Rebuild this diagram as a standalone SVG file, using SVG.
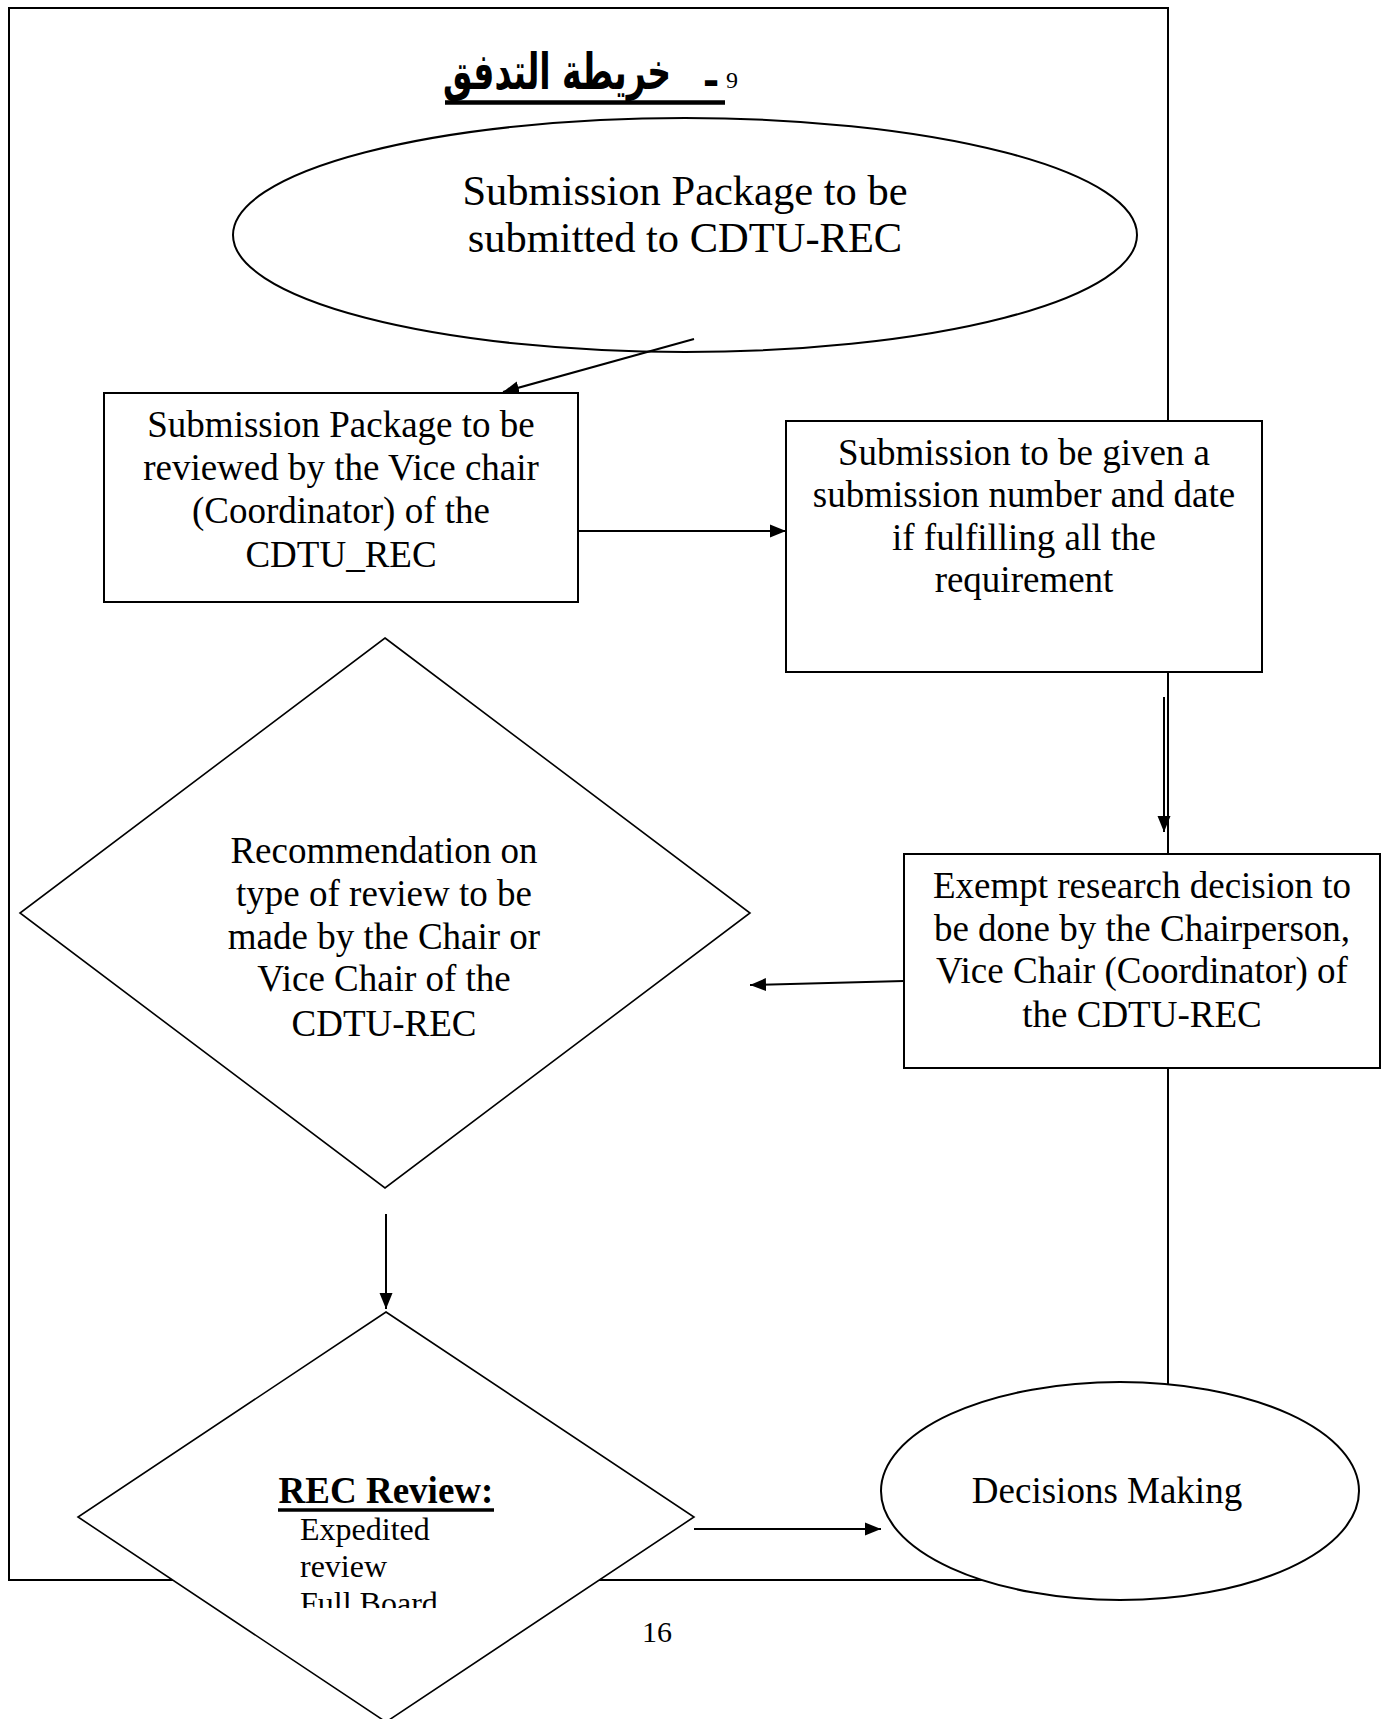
<svg xmlns="http://www.w3.org/2000/svg" width="1386" height="1719" viewBox="0 0 1386 1719">
<style>
.t{font-family:"Liberation Serif","Times New Roman",serif;fill:#000;}
.n{fill:#fff;stroke:#000;stroke-width:2;}
.d{fill:#fff;stroke:#000;stroke-width:1.6;}
.c{fill:none;stroke:#000;stroke-width:2;}
</style>
<defs>
<marker id="ah" markerUnits="userSpaceOnUse" markerWidth="17" markerHeight="14" refX="16" refY="7" orient="auto"><path d="M0,0.5 L16,7 L0,13.5 z" fill="#000"/></marker>
<clipPath id="clipTxt"><rect x="0" y="1300" width="1386" height="308"/></clipPath>
</defs>
<rect id="page" x="9" y="8" width="1159" height="1572" fill="none" stroke="#000" stroke-width="2"/>
<g id="title">
<text transform="translate(557,89) scale(0.66,1)" text-anchor="middle" direction="rtl" font-family="'DejaVu Sans',sans-serif" font-weight="bold" font-size="50" fill="#000">خريطة التدفق</text>
<text x="711" y="95" text-anchor="middle" font-family="'DejaVu Sans',sans-serif" font-weight="bold" font-size="40" fill="#000">-</text>
<text x="732" y="88" text-anchor="middle" class="t" font-size="24">9</text>
<line x1="445" y1="102.5" x2="725" y2="102.5" stroke="#000" stroke-width="4.5"/>
</g>
<g id="n1">
<ellipse class="n" cx="685" cy="235" rx="452" ry="117"/>
<text class="t" font-size="42.5" text-anchor="middle"><tspan x="685" y="205">Submission Package to be</tspan><tspan x="685" y="252">submitted to CDTU-REC</tspan></text>
</g>
<g id="n2">
<rect class="n" x="104" y="393" width="474" height="209"/>
<text class="t" font-size="37" text-anchor="middle"><tspan x="341" y="437">Submission Package to be</tspan><tspan x="341" y="480">reviewed by the Vice chair</tspan><tspan x="341" y="523">(Coordinator) of the</tspan><tspan x="341" y="567">CDTU_REC</tspan></text>
</g>
<g id="n3">
<rect class="n" x="786" y="421" width="476" height="251"/>
<text class="t" font-size="37" text-anchor="middle"><tspan x="1024" y="465">Submission to be given a</tspan><tspan x="1024" y="507">submission number and date</tspan><tspan x="1024" y="550">if fulfilling all the</tspan><tspan x="1024" y="592">requirement</tspan></text>
</g>
<g id="n4">
<rect class="n" x="904" y="854" width="476" height="214"/>
<text class="t" font-size="37" text-anchor="middle"><tspan x="1142" y="898">Exempt research decision to</tspan><tspan x="1142" y="941">be done by the Chairperson,</tspan><tspan x="1142" y="983">Vice Chair (Coordinator) of</tspan><tspan x="1142" y="1027">the CDTU-REC</tspan></text>
</g>
<g id="n5">
<polygon class="d" points="385,638 750,913 385,1188 20,913"/>
<text class="t" font-size="37" text-anchor="middle"><tspan x="384" y="863">Recommendation on</tspan><tspan x="384" y="906">type of review to be</tspan><tspan x="384" y="949">made by the Chair or</tspan><tspan x="384" y="991">Vice Chair of the</tspan><tspan x="384" y="1036">CDTU-REC</tspan></text>
</g>
<g id="n6">
<polygon class="d" points="386,1312 694,1517 386,1722 78,1517"/>
<text class="t" font-size="37" font-weight="bold" text-anchor="middle" x="386" y="1503">REC Review:</text>
<line x1="278" y1="1510" x2="494" y2="1510" stroke="#000" stroke-width="3.5"/>
<text class="t" font-size="32" clip-path="url(#clipTxt)"><tspan x="300" y="1540">Expedited</tspan><tspan x="300" y="1577">review</tspan><tspan x="300" y="1614">Full Board</tspan></text>
</g>
<g id="n7">
<ellipse class="n" cx="1120" cy="1491" rx="239" ry="109"/>
<text class="t" font-size="37" text-anchor="middle" x="1107" y="1503">Decisions Making</text>
</g>
<g id="connectors">
<line class="c" x1="694" y1="339" x2="503" y2="392" marker-end="url(#ah)"/>
<line class="c" x1="578" y1="531" x2="786" y2="531" marker-end="url(#ah)"/>
<line class="c" x1="1164" y1="697" x2="1164" y2="832" marker-end="url(#ah)"/>
<line class="c" x1="904" y1="981" x2="750" y2="985" marker-end="url(#ah)"/>
<line class="c" x1="386" y1="1214" x2="386" y2="1309" marker-end="url(#ah)"/>
<line class="c" x1="694" y1="1529" x2="881" y2="1529" marker-end="url(#ah)"/>
</g>
<text id="pagenum" class="t" font-size="30" text-anchor="middle" x="657" y="1642">16</text>
</svg>
